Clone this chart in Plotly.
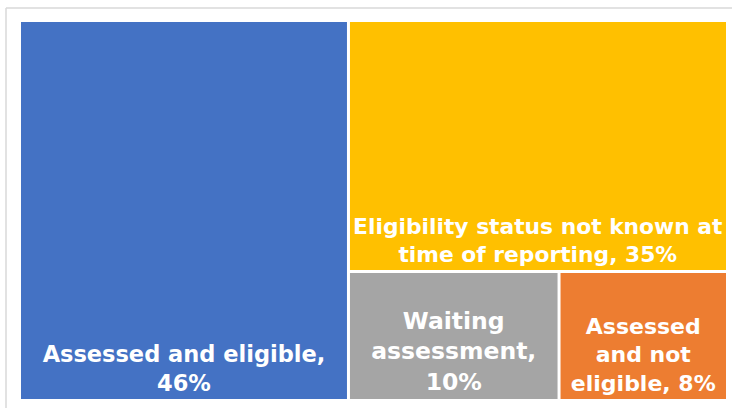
import plotly.graph_objects as go

categories = [
    "Assessed and eligible",
    "Eligibility status not known at time of reporting",
    "Waiting assessment",
    "Assessed and not eligible",
]
values = [46, 35, 10, 8]
tile_text = [
    "Assessed and eligible,<br>46%",
    "Eligibility status not known at<br>time of reporting, 35%",
    "Waiting<br>assessment,<br>10%",
    "Assessed<br>and not<br>eligible, 8%",
]
colors = ["#4472C4", "#FFC000", "#A5A5A5", "#ED7D31"]
font_sizes = [22.5, 22, 23.5, 22]

fig = go.Figure(
    go.Treemap(
        labels=categories,
        parents=[""] * len(categories),
        values=values,
        text=tile_text,
        texttemplate="%{text}",
        textposition="bottom center",
        textfont=dict(family="DejaVu Sans", size=font_sizes, color="white", weight="bold"),
        marker=dict(colors=colors, line=dict(width=0), pad=dict(t=0, l=0, r=0, b=0)),
        tiling=dict(packing="binary", pad=3),
        pathbar=dict(visible=False),
        sort=True,
        hoverinfo="label+value",
    )
)

fig.update_layout(
    width=732,
    height=408,
    margin=dict(l=21, r=6, t=22, b=9),
    paper_bgcolor="white",
    plot_bgcolor="white",
    shapes=[
        dict(type="line", xref="paper", yref="paper", x0=-15 / 705, x1=1.1, y0=1 + 14 / 377, y1=1 + 14 / 377,
             line=dict(color="#D9D9D9", width=1.5)),
        dict(type="line", xref="paper", yref="paper", x0=-15 / 705, x1=-15 / 705, y0=-0.1, y1=1 + 14 / 377,
             line=dict(color="#D9D9D9", width=1.5)),
    ],
)

fig.write_html("out.html", config={"displayModeBar": False},
               post_script="document.body.style.margin='0';")
